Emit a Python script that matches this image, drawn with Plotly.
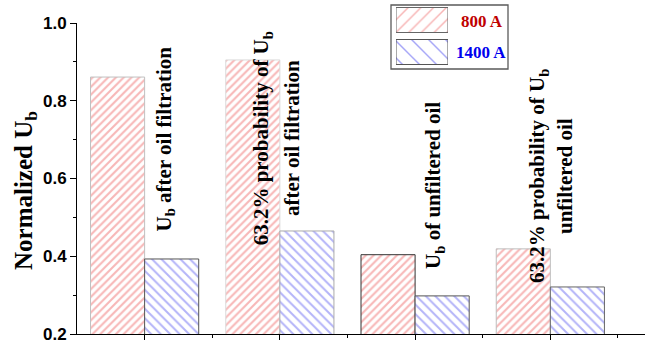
import plotly.graph_objects as go

# Bar groups (one per test condition) and normalized breakdown voltages
groups = [1, 2, 3, 4]
u800 = [0.861, 0.905, 0.404, 0.419]
u1400 = [0.393, 0.465, 0.298, 0.321]
series_names = ["800 A", "1400 A"]

SERIF = "Liberation Serif"
SANS = "Liberation Sans"
RED_HATCH = "#f07070"
BLUE_HATCH = "#6a6af2"

fig = go.Figure()

fig.add_trace(go.Bar(
    x=groups, y=u800, name=series_names[0], showlegend=False,
    marker=dict(color="white",
                line=dict(color=["#c0c0c0", "#dadada", "#333333", "#bdbdbd"], width=1),
                pattern=dict(shape="/", fgcolor=RED_HATCH, bgcolor="white",
                             size=5.5, solidity=0.38)),
))
fig.add_trace(go.Bar(
    x=groups, y=u1400, name=series_names[1], showlegend=False,
    marker=dict(color="white",
                line=dict(color=["#555555", "#aaaaaa", "#555555", "#666666"], width=1),
                pattern=dict(shape="\\", fgcolor=BLUE_HATCH, bgcolor="white",
                             size=6.7, solidity=0.3)),
))

# Legend swatches drawn on a small inset axis (x2/y2)
fig.add_trace(go.Bar(
    x=[1], y=[45], base=[0], width=[25], offset=[-12.5], orientation="h",
    xaxis="x2", yaxis="y2", showlegend=False, hoverinfo="skip",
    marker=dict(color="white", line=dict(color="#666666", width=1),
                pattern=dict(shape="/", fgcolor="#f06a6a", bgcolor="white",
                             size=9, solidity=0.16)),
))
fig.add_trace(go.Bar(
    x=[1], y=[13], base=[0], width=[25], offset=[-12.5], orientation="h",
    xaxis="x2", yaxis="y2", showlegend=False, hoverinfo="skip",
    marker=dict(color="white", line=dict(color="#555555", width=1),
                pattern=dict(shape="\\", fgcolor="#4a4af0", bgcolor="white",
                             size=12, solidity=0.12)),
))

ann_font = dict(family=SERIF, size=21, color="black", weight="bold")
labels = [
    (1.148, 0.702, "U<sub>b</sub> after oil filtration"),
    (1.87, 0.704, "63.2% probability of U<sub>b</sub>"),
    (2.09, 0.704, "after oil filtration"),
    (3.14, 0.581, "U<sub>b</sub> of unfiltered oil"),
    (3.91, 0.607, "63.2% probability of U<sub>b</sub>"),
    (4.11, 0.607, "unfiltered oil"),
]
for x, y, t in labels:
    fig.add_annotation(x=x, y=y, xref="x", yref="y", text=t, textangle=-90,
                       xanchor="center", yanchor="middle",
                       showarrow=False, font=ann_font)

# Y-axis title
fig.add_annotation(x=(25 - 77) / 568, y=(334 - 191) / 330, xref="paper", yref="paper",
                   xanchor="center", yanchor="middle", textangle=-90,
                   text="Normalized U<sub>b</sub>", showarrow=False,
                   font=dict(family=SERIF, size=25, color="black", weight="bold"))

# Legend frame and labels
fig.add_shape(type="rect", xref="paper", yref="paper",
              x0=(391 - 77) / 568, x1=(508 - 77) / 568,
              y0=(334 - 69) / 330, y1=(334 - 5) / 330,
              line=dict(color="#5a5a5a", width=1.3), fillcolor="rgba(0,0,0,0)")
fig.add_annotation(x=(482 - 77) / 568, y=(334 - 21) / 330, xref="paper", yref="paper",
                   xanchor="center", yanchor="middle",
                   text=series_names[0], showarrow=False,
                   font=dict(family=SERIF, size=17, color="#c00000", weight="bold"))
fig.add_annotation(x=(481 - 77) / 568, y=(334 - 52) / 330, xref="paper", yref="paper",
                   xanchor="center", yanchor="middle",
                   text=series_names[1], showarrow=False,
                   font=dict(family=SERIF, size=17, color="#0000ee", weight="bold"))

fig.update_layout(
    width=657, height=349,
    margin=dict(l=77, r=12, t=4, b=15, autoexpand=False),
    paper_bgcolor="white", plot_bgcolor="white",
    barmode="group", bargap=0.2, bargroupgap=0,
    showlegend=False,
    xaxis=dict(range=[0.5, 4.7], tickvals=groups, ticktext=["", "", "", ""],
               showticklabels=False, ticks="outside", ticklen=5, tickcolor="black",
               minor=dict(tickvals=[1.5, 2.5, 3.5, 4.5], ticks="outside", ticklen=3,
                          tickcolor="black"),
               showline=True, linecolor="black", linewidth=1, automargin=False,
               showgrid=False, zeroline=False, domain=[0, 1]),
    yaxis=dict(range=[0.2, 1.0], dtick=0.2, tick0=0.2, tickformat=".1f",
               ticks="outside", ticklen=6, tickcolor="black",
               minor=dict(dtick=0.1, ticks="outside", ticklen=3, tickcolor="black"),
               showline=True, linecolor="black", linewidth=1, automargin=False,
               showgrid=False, zeroline=False,
               domain=[0, (334 - 23) / 330],
               tickfont=dict(family=SANS, size=17, color="black", weight="bold")),
    xaxis2=dict(domain=[(396 - 77) / 568, (448 - 77) / 568], range=[0, 1],
                autorange=False, anchor="y2", showgrid=False, zeroline=False,
                showticklabels=False, showline=False, ticks="", fixedrange=True,
                automargin=False),
    yaxis2=dict(domain=[(334 - 65) / 330, (334 - 7) / 330], range=[0, 58],
                autorange=False, anchor="x2", showgrid=False, zeroline=False,
                showticklabels=False, showline=False, ticks="", fixedrange=True,
                automargin=False),
)

fig.write_html("out.html")
